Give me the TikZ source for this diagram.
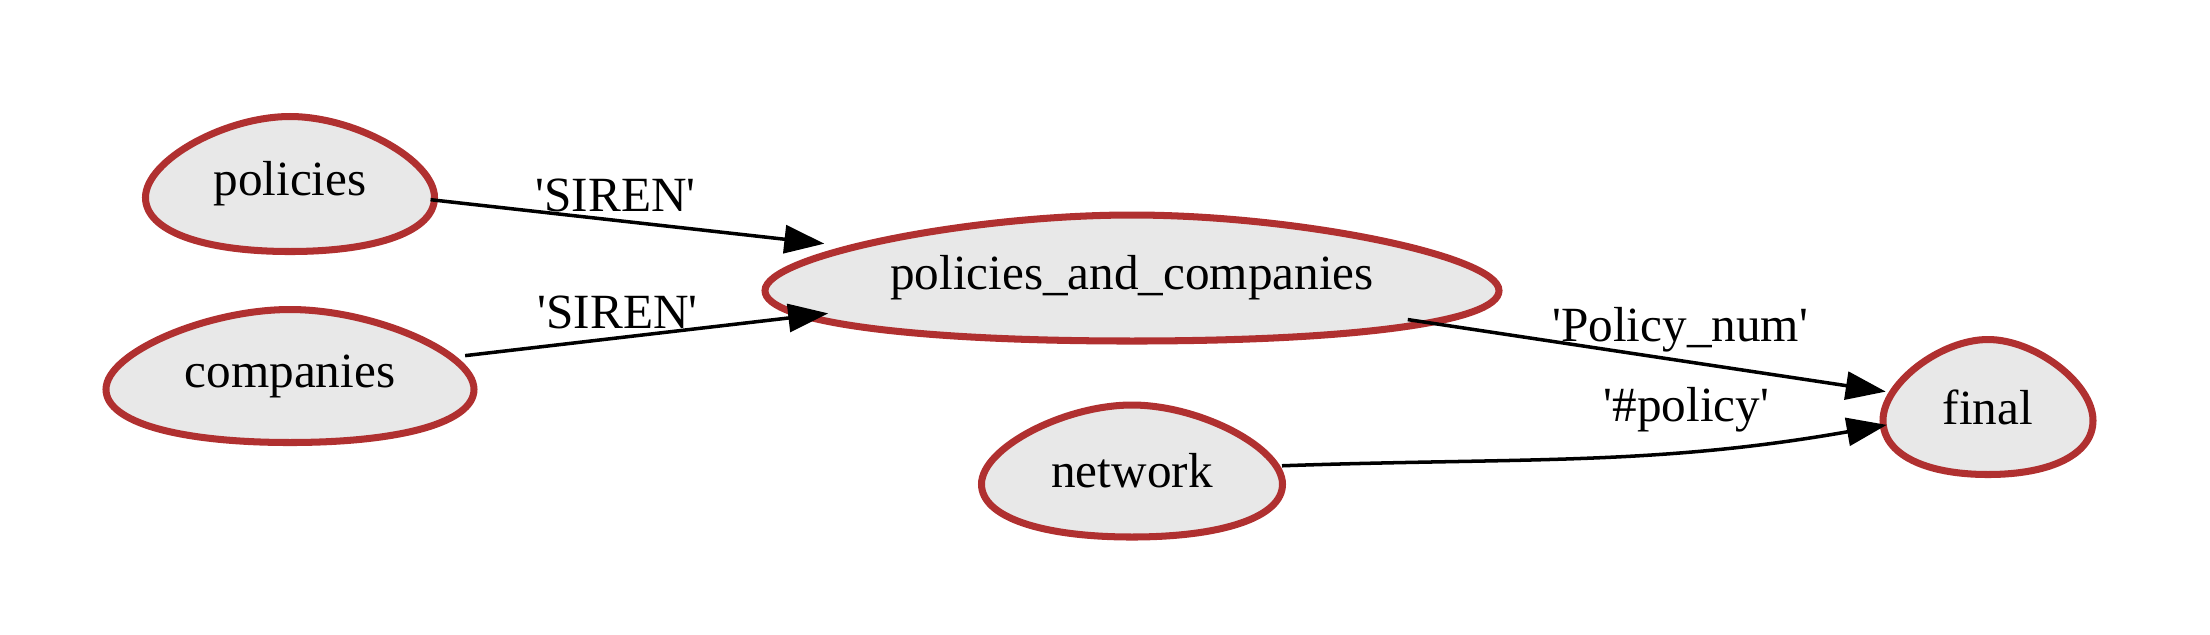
\documentclass[tikz,border=0pt]{standalone}
\usepackage{fontspec}
\newfontfamily\gvfont{Liberation Serif}
\usetikzlibrary{calc,backgrounds,arrows.meta,shapes.geometric}
\definecolor{eggred}{RGB}{176,48,48}
\definecolor{eggfill}{RGB}{232,232,232}
\tikzset{
  egg/.style={shape=ellipse, inner sep=0pt, outer sep=0pt, font=\gvfont\fontsize{14}{16}\selectfont},
  eggline/.style={draw=eggred, fill=eggfill, line width=2pt},
  link/.style={-{Triangle[length=0.40cm,width=0.28cm]}, line width=1pt},
  lbl/.style={above, inner sep=2pt, font=\gvfont\fontsize{14}{16}\selectfont}
}
\newcommand{\eggpath}[1]{%
  \path[eggline] let \p1=(#1.center), \p2=(#1.east), \p3=(#1.north),
    \n1={\x2-\x1}, \n2={\y3-\y1} in
    (\x1,\y1-\n2) .. controls (\x1+0.6*\n1,\y1-\n2) and (\x1+\n1,\y1-0.7*\n2) .. (\x1+\n1,\y1-0.2*\n2)
    .. controls (\x1+\n1,\y1+0.35*\n2) and (\x1+0.45*\n1,\y1+\n2) .. (\x1,\y1+\n2)
    .. controls (\x1-0.45*\n1,\y1+\n2) and (\x1-\n1,\y1+0.35*\n2) .. (\x1-\n1,\y1-0.2*\n2)
    .. controls (\x1-\n1,\y1-0.7*\n2) and (\x1-0.6*\n1,\y1-\n2) .. cycle;}
\begin{document}
\begin{tikzpicture}[node distance=1.92cm]
    \useasboundingbox (0,0) rectangle (22.1,-6.34);
    \node(policies)[egg, minimum width=2.89cm, minimum height=1.35cm] at (2.90,-1.84) {policies};
    \node(companies)[egg, below of=policies, minimum width=3.68cm, minimum height=1.33cm] {companies};
    \node(pac)[egg, minimum width=7.34cm, minimum height=1.26cm] at (11.32,-2.78) {policies\_and\_companies};
    \node(network)[egg, below of=pac, node distance=1.93cm, minimum width=3.01cm, minimum height=1.32cm] {network};
    \node(final)[egg, minimum width=2.10cm, minimum height=1.35cm] at (19.88,-4.07) {final};
    \begin{scope}[on background layer]
      \eggpath{policies}
      \eggpath{companies}
      \eggpath{pac}
      \eggpath{network}
      \eggpath{final}
    \end{scope}
    \draw[link](policies)  -- node[lbl, pos=0.47](sirenA) {'SIREN'} (pac);
    \draw[link](companies) -- node[lbl, pos=0.42](sirenB) {'SIREN'} (pac);
    \draw[link](pac)       -- node[lbl, pos=0.57](polnum) {'Policy\_num'} (final);
    \draw[link](network)   to[out=2, in=190] node[lbl, pos=0.68, yshift=0.1cm](hashpol) {'\#policy'} (final);
  \end{tikzpicture}
\end{document}
